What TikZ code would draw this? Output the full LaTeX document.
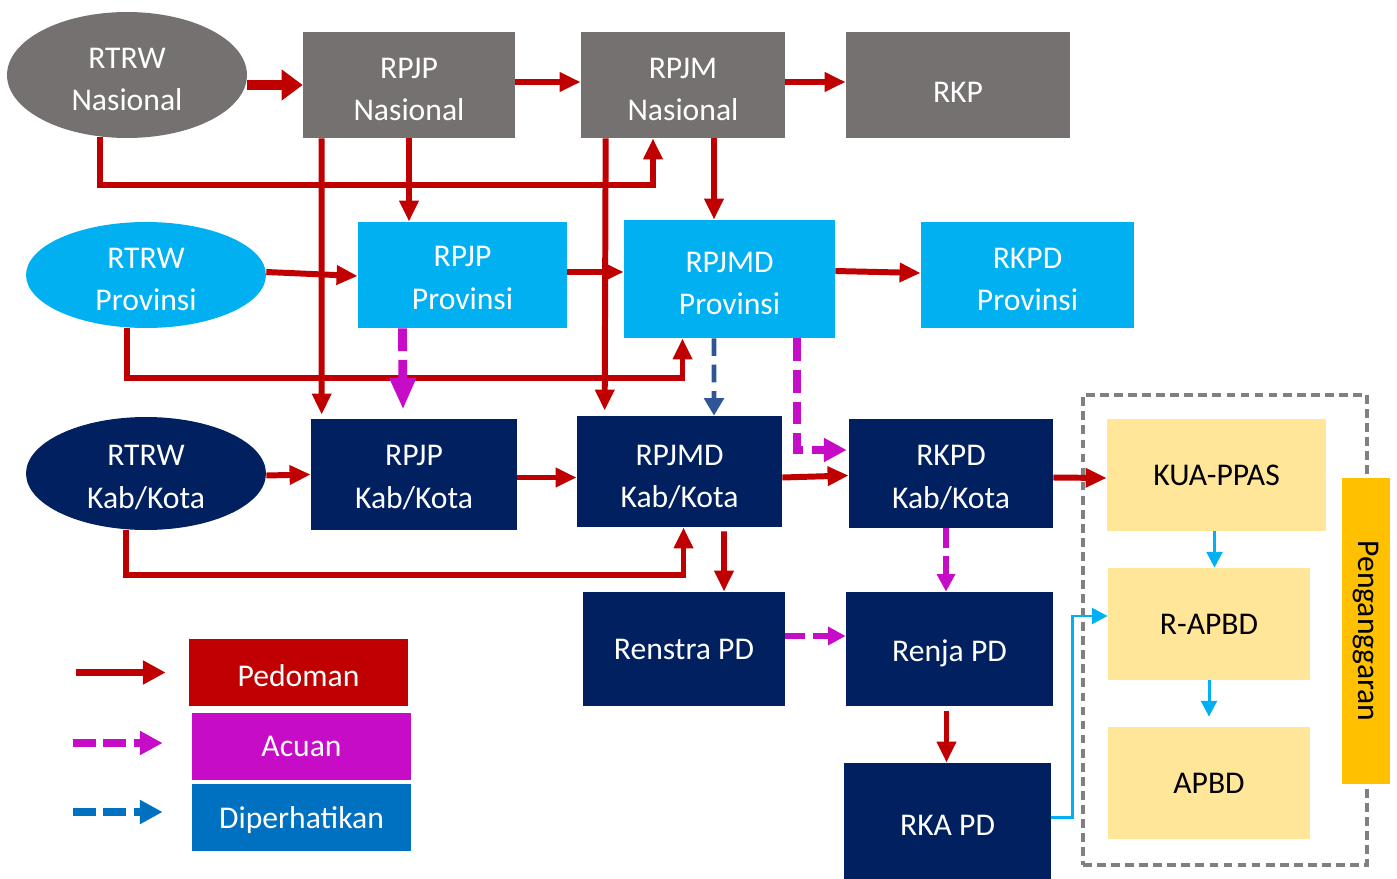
\documentclass[tikz,border=0pt]{standalone}
\usepackage{fontspec}
\setmainfont{Carlito}
\usetikzlibrary{shapes.geometric,arrows.meta,calc}

\definecolor{nasgray}{HTML}{767171}
\definecolor{provcyan}{HTML}{00B0F0}
\definecolor{kabnavy}{HTML}{002060}
\definecolor{pedred}{HTML}{C00000}
\definecolor{acuanmag}{RGB}{199,12,200}
\definecolor{perhblue}{HTML}{2F5597}
\definecolor{legblue}{HTML}{0070C0}
\definecolor{budgetyellow}{HTML}{FFE699}
\definecolor{budgetorange}{HTML}{FFC000}
\definecolor{framegray}{HTML}{808080}

% invisible strut that drops the text a little inside its box
\newcommand{\txtdrop}[1][16.2pt]{\rule{0pt}{#1}}

\begin{document}
\begin{tikzpicture}[
    x=0.02cm, y=-0.02cm,
    box/.style={rectangle, inner sep=0pt, align=center, text=white, font=\fontsize{18}{24}\selectfont},
    oval/.style={ellipse, inner sep=0pt, minimum width=4.8cm, align=center, text=white, font=\fontsize{18}{24}\selectfont},
    budget/.style={rectangle, inner sep=0pt, fill=budgetyellow, align=center, font=\fontsize{18}{24}\selectfont},
    legend/.style={rectangle, inner sep=0pt, minimum width=4.38cm, minimum height=1.34cm, text=white, font=\fontsize{18}{24}\selectfont},
    pedoman/.style={draw=pedred, line width=3.4pt, -{Triangle[length=12pt,width=10.5pt]}},
    acuan/.style={draw=acuanmag, line width=3.6pt, dash pattern=on 11pt off 5pt, -{Triangle[length=10pt,width=10pt]}},
    perhati/.style={draw=perhblue, line width=2.8pt, dash pattern=on 10pt off 5pt, -{Triangle[length=10pt,width=11pt]}},
    anggar/.style={draw=provcyan, line width=1.7pt, -{Triangle[length=9pt,width=9pt]}}
]
\useasboundingbox (0,0) rectangle (1397,879);

% Budgeting frame
\node[draw=framegray, line width=1.9pt, dash pattern=on 5pt off 3pt, minimum width=5.68cm, minimum height=9.4cm, inner sep=0pt] (frame) at (1225,630) {};

% Nasional row
\node[oval, fill=nasgray, minimum height=2.52cm] (rtrwnas) at (127,75) {\txtdrop RTRW\\Nasional};
\node[box, fill=nasgray, minimum width=4.24cm, minimum height=2.12cm] (rpjpnas) at (409,85) {\txtdrop RPJP\\Nasional};
\node[box, fill=nasgray, minimum width=4.08cm, minimum height=2.12cm] (rpjmnas) at (683,85) {\txtdrop RPJM\\Nasional};
\node[box, fill=nasgray, minimum width=4.48cm, minimum height=2.12cm] (rkp) at (958,85) {\txtdrop[19.6pt]RKP};

% Provinsi row
\node[oval, fill=provcyan, minimum height=2.12cm] (rtrwprov) at (146,275) {\txtdrop RTRW\\Provinsi};
\node[box, fill=provcyan, minimum width=4.18cm, minimum height=2.12cm] (rpjpprov) at (462.5,275) {\txtdrop[15pt]RPJP\\Provinsi};
\node[box, fill=provcyan, minimum width=4.22cm, minimum height=2.36cm] (rpjmdprov) at (729.5,279) {\txtdrop RPJMD\\Provinsi};
\node[box, fill=provcyan, minimum width=4.26cm, minimum height=2.12cm] (rkpdprov) at (1027.5,275) {\txtdrop RKPD\\Provinsi};

% Kab/Kota row
\node[oval, fill=kabnavy, minimum height=2.26cm] (rtrwkab) at (146,473.5) {\txtdrop RTRW\\Kab/Kota};
\node[box, fill=kabnavy, minimum width=4.12cm, minimum height=2.22cm] (rpjpkab) at (414,474.5) {\txtdrop[15pt]RPJP\\Kab/Kota};
\node[box, fill=kabnavy, minimum width=4.1cm, minimum height=2.22cm] (rpjmdkab) at (679.5,471.5) {\txtdrop[17.8pt]RPJMD\\Kab/Kota};
\node[box, fill=kabnavy, minimum width=4.08cm, minimum height=2.18cm] (rkpdkab) at (951,473.5) {\txtdrop RKPD\\Kab/Kota};

% Perangkat Daerah
\node[box, fill=kabnavy, minimum width=4.04cm, minimum height=2.28cm] (renstra) at (684,649) {Renstra PD};
\node[box, fill=kabnavy, minimum width=4.14cm, minimum height=2.28cm] (renja) at (949.5,649) {\txtdrop[17.3pt]Renja PD};
\node[box, fill=kabnavy, minimum width=4.14cm, minimum height=2.48cm] (rkapd) at (947.5,825) {RKA PD};

% Penganggaran
\node[budget, minimum width=4.38cm, minimum height=2.24cm] (kua) at (1216.5,475) {KUA-PPAS};
\node[budget, minimum width=4.04cm, minimum height=2.24cm] (rapbd) at (1209,624) {R-APBD};
\node[budget, minimum width=4.04cm, minimum height=2.24cm] (apbd) at (1209,783) {APBD};
\node[rectangle, inner sep=0pt, fill=budgetorange, rotate=-90, minimum width=6.12cm, minimum height=0.96cm, font=\fontsize{18}{24}\selectfont] (pengang) at (1366,631) {Penganggaran};

% Legend
\node[legend, fill=pedred] (legped) at (298.5,672.5) {\txtdrop Pedoman};
\node[legend, fill=acuanmag] (legacu) at (301.5,746.5) {Acuan};
\node[legend, fill=legblue] (legper) at (301.5,817.5) {\txtdrop[15pt]Diperhatikan};

% Arrows - Nasional
\draw[pedoman, line width=5.7pt, -{Triangle[length=12pt,width=17pt]}] (rtrwnas.east |- rpjpnas.west) -- (rpjpnas.west);
\draw[pedoman] ($(rpjpnas.east)+(0,-3)$) -- ($(rpjmnas.west)+(0,-3)$);
\draw[pedoman] ($(rpjmnas.east)+(0,-3)$) -- ($(rkp.west)+(0,-3)$);
\draw[pedoman] (rtrwnas.-114) -- ++(0,48) -| ($(rpjmnas.south)+(-30,0)$);

% Arrows - Nasional to Provinsi / Kab/Kota
\draw[pedoman] (rpjpnas.south) -- (rpjpnas.south |- rpjpprov.north);
\draw[pedoman] ($(rpjpnas.south west)+(19,0)$) -- ($(rpjpkab.north west)+(11,-4)$);
\draw[pedoman] ($(rpjmnas.south west)+(25,0)$) -- ($(rpjmdkab.north west)+(28,-5)$);
\draw[pedoman] ($(rpjmnas.south)+(31,0)$) -- ($(rpjmdprov.north)+(-15.5,0)$);

% Arrows - Provinsi
\draw[pedoman] ($(rtrwprov.east)+(0,-3)$) -- ($(rpjpprov.west)+(0,1)$);
\draw[pedoman] ($(rpjpprov.east)+(0,-3)$) -- ($(rpjmdprov.west)+(0,-7)$);
\draw[pedoman] ($(rpjmdprov.east)+(0,-8)$) -- ($(rkpdprov.west)+(0,-2)$);
\draw[pedoman] (rtrwprov.-110) -- ++(0,50) -| ($(rpjmdprov.south)+(-47,0)$);

% Arrows - Provinsi to Kab/Kota
\draw[acuan, line width=5pt, dash pattern=on 13pt off 5pt, -{Triangle[length=18pt,width=14pt]}] ($(rpjpprov.south)+(-60,0)$) -- ($(rpjpkab.north)+(-11,-9)$);
\draw[perhati] ($(rpjmdprov.south)+(-15.5,0)$) -- ($(rpjmdkab.north)+(34.5,0)$);
\draw[acuan, line width=4.5pt, dash pattern=on 13pt off 5pt, -{Triangle[length=13pt,width=13pt]}] ($(rpjmdprov.south)+(67.5,0)$) |- ($(rkpdkab.west)+(-2,-23.5)$);

% Arrows - Kab/Kota
\draw[pedoman] ($(rtrwkab.east)+(0,2)$) -- (rpjpkab.west);
\draw[pedoman] ($(rpjpkab.east)+(0,3)$) -- ($(rpjmdkab.west)+(0,6)$);
\draw[pedoman] ($(rpjmdkab.east)+(0,6)$) -- ($(rkpdkab.west)+(0,2)$);
\draw[pedoman] (rtrwkab.-110) -- ++(0,45) -| ($(rpjmdkab.south)+(4,0)$);
\draw[pedoman] ($(rkpdkab.east)+(0,4)$) -- ($(kua.west)+(0,3)$);

% Arrows - Perangkat Daerah
\draw[pedoman] ($(rpjmdkab.south)+(44.5,4)$) -- ($(renstra.north)+(40,0)$);
\draw[acuan] ($(rkpdkab.south)+(-5,0)$) -- ($(renja.north)+(-3.5,0)$);
\draw[acuan] ($(renstra.east)+(0,-13)$) -- ($(renja.west)+(0,-13)$);
\draw[pedoman] ($(renja.south)+(-3,5)$) -- ($(rkapd.north)+(-1,0)$);

% Arrows - Penganggaran
\draw[anggar] ($(rkapd.east)+(0,-8)$) -- ++(21,0) |- ($(rapbd.west)+(0,-8)$);
\draw[anggar] ($(kua.south)+(-2,0)$) -- ($(rapbd.north)+(5.5,0)$);
\draw[anggar] (rapbd.south) -- ($(apbd.north)+(0,-10)$);

% Legend arrows
\draw[pedoman, line width=4.5pt, -{Triangle[length=13pt,width=13pt]}] ($(legped.west)+(-113,0)$) -- ($(legped.west)+(-23,0)$);
\draw[acuan, line width=4.5pt, dash pattern=on 13pt off 4.5pt, -{Triangle[length=13pt,width=13pt]}] ($(legacu.west)+(-119,-3.5)$) -- ($(legacu.west)+(-29,-3.5)$);
\draw[perhati, draw=legblue, line width=4.5pt, dash pattern=on 13pt off 4.5pt, -{Triangle[length=13pt,width=13pt]}] ($(legper.west)+(-119,-5.5)$) -- ($(legper.west)+(-29,-5.5)$);

\end{tikzpicture}
\end{document}
